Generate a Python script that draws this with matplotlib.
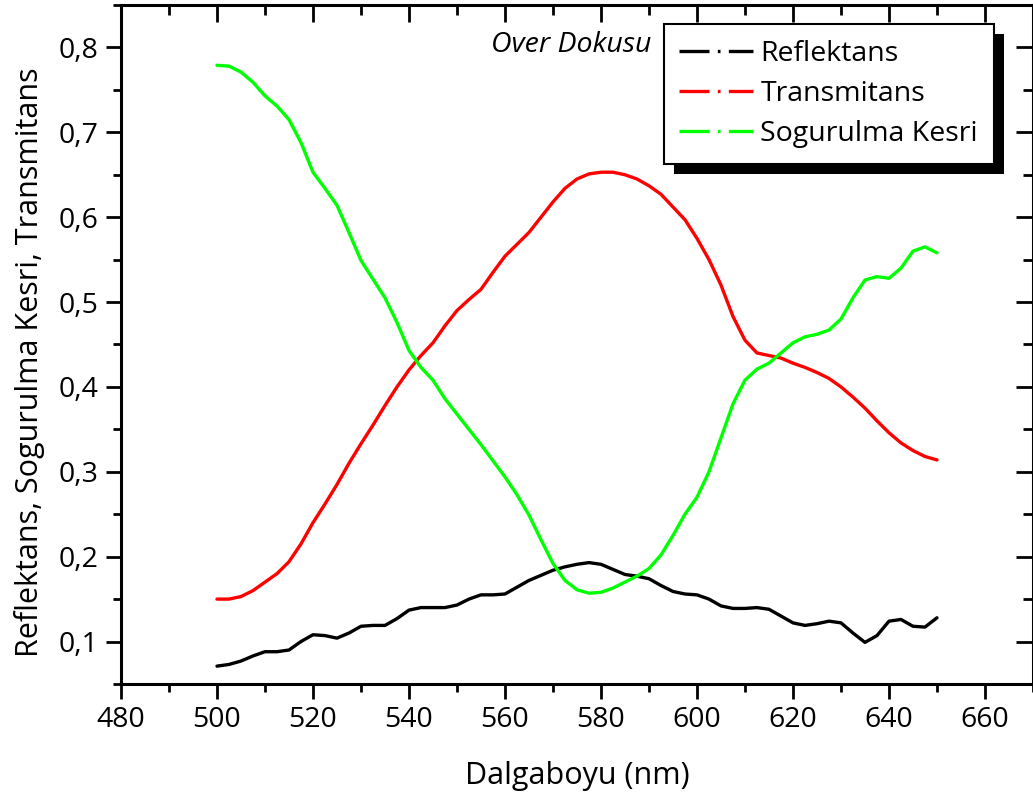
import matplotlib
matplotlib.use("Agg")
import matplotlib.pyplot as plt
from matplotlib.lines import Line2D
from matplotlib.patches import Rectangle
from matplotlib.ticker import MultipleLocator, FuncFormatter
from matplotlib.transforms import IdentityTransform

plt.rcParams['font.family'] = ['Open Sans', 'DejaVu Sans']

# wavelength grid (nm)
wavelength = [500 + 2.5 * i for i in range(61)]

reflektans = [0.071, 0.073, 0.077, 0.083, 0.088, 0.088, 0.090, 0.100, 0.108, 0.107,
              0.104, 0.110, 0.118, 0.119, 0.119, 0.127, 0.137, 0.140, 0.140, 0.140,
              0.143, 0.150, 0.155, 0.155, 0.156, 0.164, 0.172, 0.178, 0.184, 0.188,
              0.191, 0.193, 0.191, 0.185, 0.179, 0.177, 0.174, 0.166, 0.159, 0.156,
              0.155, 0.150, 0.142, 0.139, 0.139, 0.140, 0.138, 0.130, 0.122, 0.119,
              0.121, 0.124, 0.122, 0.110, 0.099, 0.107, 0.124, 0.126, 0.118, 0.117,
              0.128]

transmitans = [0.150, 0.150, 0.153, 0.160, 0.170, 0.180, 0.194, 0.215, 0.240, 0.262,
               0.285, 0.310, 0.333, 0.355, 0.378, 0.400, 0.420, 0.437, 0.452, 0.472,
               0.490, 0.503, 0.515, 0.535, 0.554, 0.568, 0.582, 0.600, 0.618, 0.634,
               0.645, 0.651, 0.653, 0.653, 0.650, 0.645, 0.637, 0.627, 0.612, 0.597,
               0.575, 0.550, 0.520, 0.483, 0.455, 0.440, 0.437, 0.434, 0.428, 0.423,
               0.417, 0.410, 0.400, 0.388, 0.375, 0.360, 0.346, 0.334, 0.325, 0.318,
               0.314]

sogurulma = [0.779, 0.778, 0.771, 0.759, 0.743, 0.731, 0.715, 0.688, 0.653, 0.634,
             0.614, 0.582, 0.549, 0.527, 0.505, 0.476, 0.443, 0.423, 0.408, 0.386,
             0.368, 0.350, 0.332, 0.313, 0.294, 0.273, 0.249, 0.220, 0.192, 0.172,
             0.161, 0.157, 0.158, 0.163, 0.170, 0.177, 0.186, 0.202, 0.225, 0.250,
             0.270, 0.300, 0.340, 0.380, 0.408, 0.421, 0.428, 0.440, 0.452, 0.459,
             0.462, 0.467, 0.480, 0.505, 0.526, 0.530, 0.528, 0.540, 0.560, 0.565,
             0.558]

series_names = ['Reflektans', 'Transmitans', 'Sogurulma Kesri']
series_colors = ['black', '#ff0000', '#00ff00']

fig = plt.figure(figsize=(10.33, 7.98), dpi=100)
ax = fig.add_axes([0.1171, 0.1429, 0.8829, 0.8508])

for vals, name, col in zip([reflektans, transmitans, sogurulma], series_names, series_colors):
    ax.plot(wavelength, vals, color=col, lw=2.4, label=name,
            solid_joinstyle='round', solid_capstyle='round')

ax.set_xlim(480, 670)
ax.set_ylim(0.05, 0.85)
ax.set_xticks(range(480, 661, 20))
ax.xaxis.set_minor_locator(MultipleLocator(10))
ax.set_yticks([0.1, 0.2, 0.3, 0.4, 0.5, 0.6, 0.7, 0.8])
ax.yaxis.set_minor_locator(MultipleLocator(0.05))
ax.yaxis.set_major_formatter(FuncFormatter(lambda v, p: f"{v:.1f}".replace('.', ',')))

for s in ax.spines.values():
    s.set_linewidth(2.2)
ax.tick_params(which='major', direction='out', length=11, width=2, labelsize=20.5, pad=5)
ax.tick_params(which='minor', direction='out', length=6, width=2)

# inward ticks on top and right, no labels
top = ax.secondary_xaxis('top')
top.set_xticks(range(480, 661, 20))
top.xaxis.set_minor_locator(MultipleLocator(10))
top.tick_params(which='major', direction='in', length=12, width=2, labeltop=False)
top.tick_params(which='minor', direction='in', length=7, width=2)
right = ax.secondary_yaxis('right')
right.set_yticks([0.1, 0.2, 0.3, 0.4, 0.5, 0.6, 0.7, 0.8])
right.yaxis.set_minor_locator(MultipleLocator(0.05))
right.tick_params(which='major', direction='in', length=12, width=2, labelright=False)
right.tick_params(which='minor', direction='in', length=7, width=2)

ax.set_xlabel('Dalgaboyu (nm)', fontsize=22, labelpad=19)
ax.set_ylabel('Reflektans, Sogurulma Kesri, Transmitans', fontsize=22)
ax.yaxis.set_label_coords(-0.083, 0.474)

ax.text(0.582, 0.941, 'Over Dokusu', transform=ax.transAxes, fontsize=20.5,
        style='italic', ha='right', va='center')

handles = [Line2D([], [], color=c, lw=2.4, linestyle=(0, (9, 2.5, 0.8, 2.5)))
           for c in series_colors]
leg = ax.legend(handles, series_names, loc='upper left', bbox_to_anchor=(0.595, 0.972),
                borderaxespad=0, fontsize=20.5, handlelength=2.6, handletextpad=0.25,
                labelspacing=0.43, borderpad=0.55, fancybox=False, framealpha=1,
                edgecolor='black')
leg.get_frame().set_linewidth(1.5)

fig.canvas.draw()
bb = leg.get_window_extent()
ax.add_patch(Rectangle((bb.x0 + 10, bb.y0 - 10), bb.width, bb.height,
                       transform=IdentityTransform(), facecolor='black',
                       edgecolor='none', zorder=4.9))

fig.savefig('out.png', dpi=100)
